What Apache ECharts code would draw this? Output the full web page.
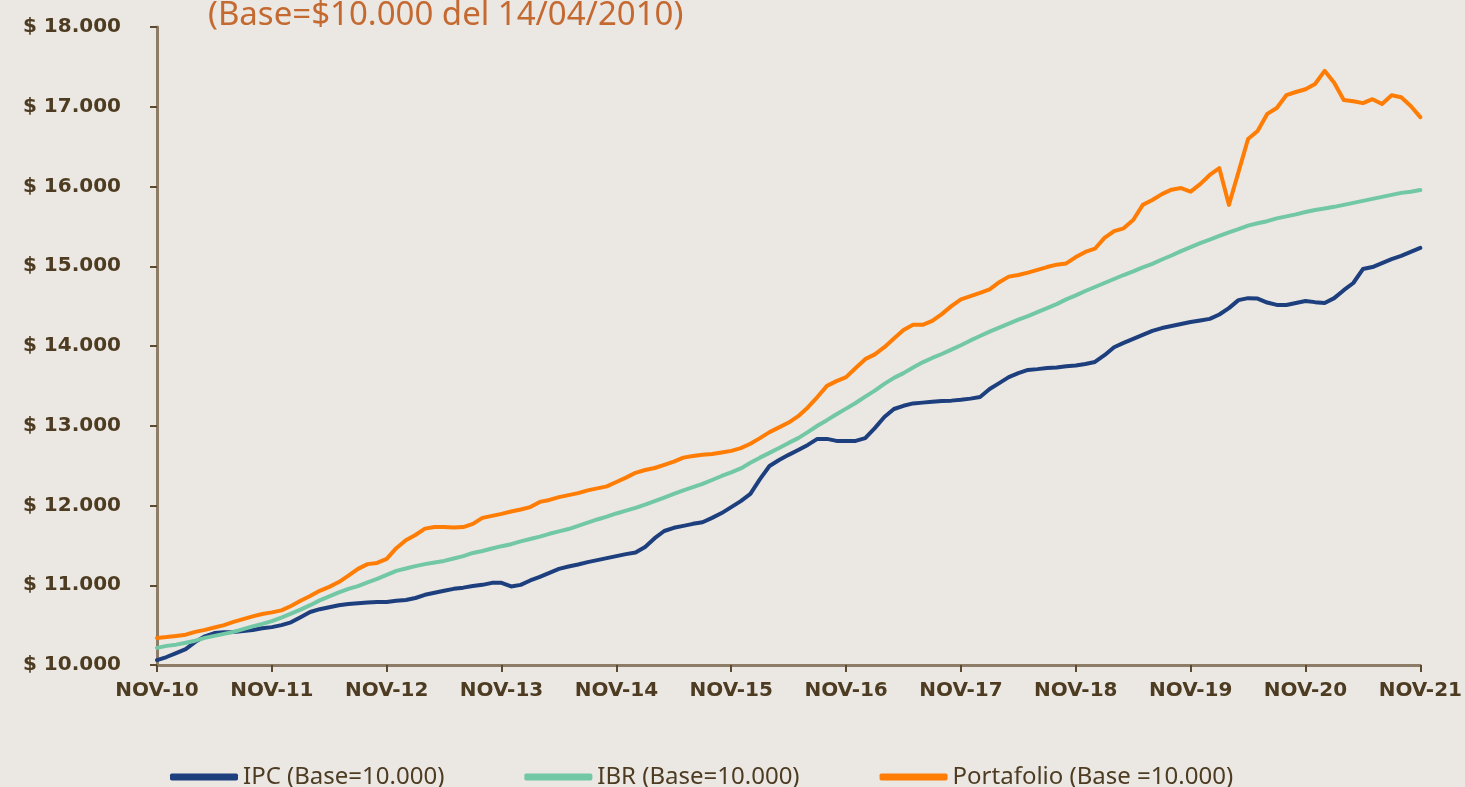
<!DOCTYPE html>
<html>
<head>
<meta charset="utf-8">
<script src="https://cdn.jsdelivr.net/npm/echarts@6/dist/echarts.min.js"></script>
<style>
  html, body { margin: 0; padding: 0; background: #ebe7e3; }
  #main { width: 1465px; height: 787px; }
</style>
</head>
<body>
<div id="main"></div>
<script>
// meses nov-10 .. nov-21
const monthNames = ['ENE', 'FEB', 'MAR', 'ABR', 'MAY', 'JUN', 'JUL', 'AGO', 'SEP', 'OCT', 'NOV', 'DIC']
const categories = []
for (let i = 0; i <= 132; i++) {
  const m = (10 + i) % 12
  const y = 10 + Math.floor((10 + i) / 12)
  categories.push(monthNames[m] + '-' + y)
}

const yTicks = [10000, 11000, 12000, 13000, 14000, 15000, 16000, 17000, 18000]

const ipc = [10060, 10100, 10150, 10200, 10290, 10360, 10400, 10410, 10415, 10425, 10440, 10460,
  10475, 10500, 10535, 10600, 10665, 10700, 10725, 10750, 10765, 10775, 10785, 10790,
  10790, 10805, 10815, 10840, 10880, 10905, 10930, 10955, 10970, 10990, 11005, 11030,
  11030, 10985, 11005, 11060, 11105, 11155, 11205, 11235, 11260, 11290, 11315, 11340,
  11365, 11390, 11410, 11480, 11590, 11680, 11720, 11745, 11770, 11790, 11845, 11905,
  11980, 12055, 12145, 12330, 12495, 12570, 12635, 12695, 12760, 12835, 12835, 12810,
  12810, 12810, 12845, 12970, 13110, 13210, 13250, 13280, 13290, 13300, 13310, 13315,
  13325, 13340, 13360, 13460, 13535, 13610, 13660, 13700, 13710, 13725, 13730, 13745,
  13755, 13775, 13800, 13885, 13985, 14040, 14090, 14140, 14190, 14225, 14250, 14275,
  14300, 14320, 14340, 14395, 14475, 14575, 14600, 14595, 14545, 14515, 14515, 14540,
  14565, 14550, 14540, 14600, 14700, 14790, 14965, 14990, 15040, 15090, 15130, 15180,
  15230]

const ibr = [10215, 10240, 10255, 10280, 10305, 10340, 10365, 10390, 10415, 10450, 10485, 10515,
  10550, 10595, 10645, 10695, 10750, 10810, 10860, 10910, 10955, 10990, 11035, 11080,
  11130, 11180, 11210, 11240, 11265, 11285, 11305, 11335, 11365, 11405, 11430, 11460,
  11490, 11515, 11550, 11580, 11610, 11645, 11675, 11705, 11745, 11785, 11825, 11860,
  11900, 11935, 11970, 12010, 12055, 12100, 12145, 12190, 12230, 12270, 12320, 12370,
  12415, 12465, 12535, 12600, 12660, 12720, 12785, 12845, 12920, 13000, 13070, 13145,
  13215, 13285, 13365, 13440, 13525, 13600, 13660, 13730, 13795, 13850, 13900, 13955,
  14010, 14070, 14125, 14180, 14230, 14280, 14330, 14375, 14425, 14475, 14525, 14585,
  14635, 14690, 14740, 14790, 14840, 14890, 14935, 14985, 15030, 15085, 15135, 15190,
  15240, 15290, 15335, 15380, 15425, 15465, 15510, 15540, 15565, 15600, 15625, 15650,
  15680, 15705, 15725, 15745, 15770, 15795, 15820, 15845, 15870, 15895, 15920, 15935,
  15955]

const portafolio = [10340, 10350, 10365, 10380, 10415, 10440, 10470, 10500, 10540, 10575, 10610, 10640,
  10660, 10685, 10740, 10805, 10865, 10930, 10980, 11040, 11120, 11205, 11265, 11280,
  11330, 11465, 11565, 11630, 11710, 11730, 11730, 11725, 11730, 11770, 11845, 11870,
  11895, 11925, 11950, 11980, 12045, 12070, 12105, 12130, 12155, 12190, 12215, 12240,
  12295, 12350, 12410, 12445, 12470, 12510, 12550, 12600, 12620, 12635, 12645, 12665,
  12685, 12720, 12775, 12845, 12920, 12980, 13040, 13120, 13230, 13360, 13500, 13560,
  13610, 13725, 13835, 13895, 13985, 14095, 14200, 14265, 14265, 14315, 14400, 14500,
  14585, 14625, 14665, 14710, 14800, 14870, 14890, 14920, 14955, 14990, 15020, 15035,
  15115, 15180, 15220, 15355, 15440, 15475, 15580, 15770, 15830, 15905, 15960, 15980,
  15935, 16030, 16145, 16230, 15770, 16180, 16595, 16695, 16910, 16985, 17145, 17185,
  17220, 17285, 17450, 17300, 17085, 17070, 17045, 17095, 17035, 17145, 17120, 17010,
  16870]

const names = ['IPC (Base=10.000)', 'IBR (Base=10.000)', 'Portafolio (Base =10.000)']
const colors = ['#1d3f7e', '#72c8a4', '#ff7d05']

const axisColor = '#8e7d66'
const labelColor = '#4d3c22'

function fmt(v) {
  return '$ ' + String(v).replace(/\B(?=(\d{3})+(?!\d))/g, '.')
}

const chart = echarts.init(document.getElementById('main'))
chart.setOption({
  backgroundColor: '#ebe7e3',
  animation: false,
  color: colors,
  title: {
    text: '(Base=$10.000 del 14/04/2010)',
    left: 203,
    top: -6,
    textStyle: {
      color: '#c46a31',
      fontFamily: 'Noto Sans',
      fontWeight: 'normal',
      fontSize: 33
    }
  },
  grid: { left: 157, right: 40, top: 27, bottom: 122 },
  legend: {
    data: names,
    left: 165,
    top: 760,
    itemWidth: 68,
    itemHeight: 7,
    itemGap: 80,
    icon: 'roundRect',
    textStyle: { color: labelColor, fontFamily: 'Noto Sans', fontSize: 24 }
  },
  xAxis: {
    type: 'category',
    data: categories,
    boundaryGap: false,
    axisLine: { lineStyle: { color: axisColor, width: 3 } },
    axisTick: { interval: 11, length: 7, lineStyle: { color: '#5c4a30', width: 2 } },
    axisLabel: {
      interval: 11,
      margin: 16,
      color: labelColor,
      fontFamily: 'DejaVu Sans',
      fontWeight: 'bold',
      fontSize: 20
    }
  },
  yAxis: {
    type: 'value',
    min: yTicks[0],
    max: yTicks[yTicks.length - 1],
    interval: 1000,
    splitLine: { show: false },
    axisLine: { show: true, lineStyle: { color: axisColor, width: 3 } },
    axisTick: { show: true, length: 7, lineStyle: { color: '#5c4a30', width: 2 } },
    axisLabel: {
      margin: 36,
      color: labelColor,
      fontFamily: 'DejaVu Sans',
      fontWeight: 'bold',
      fontSize: 20,
      formatter: fmt
    }
  },
  series: [ipc, ibr, portafolio].map((d, i) => ({
    name: names[i],
    type: 'line',
    data: d,
    symbol: 'none',
    lineStyle: { width: 4, color: colors[i], cap: 'round', join: 'round' }
  }))
})
</script>
</body>
</html>
